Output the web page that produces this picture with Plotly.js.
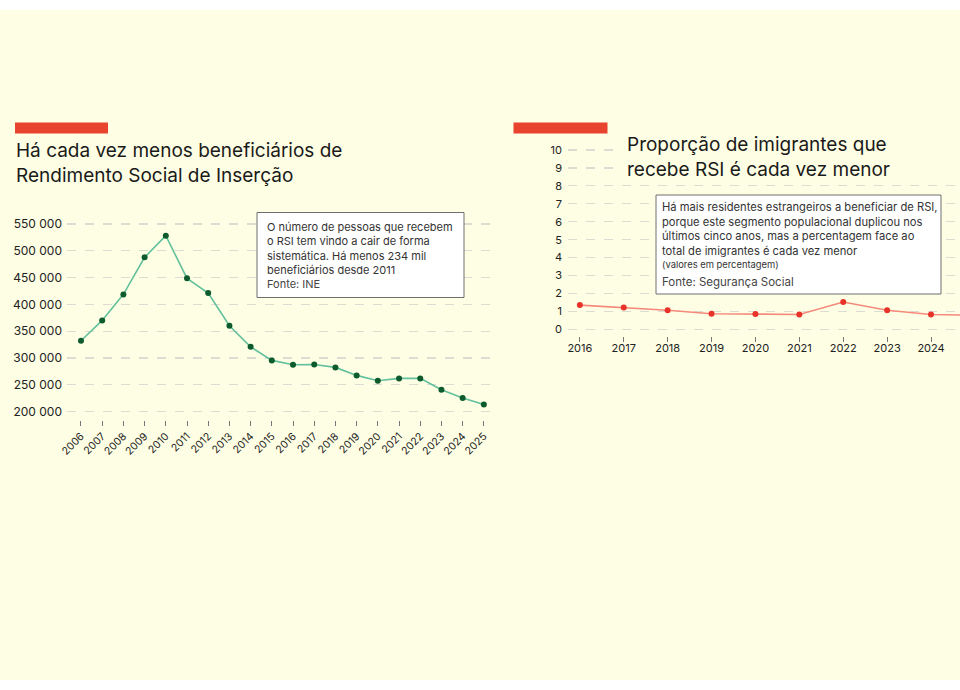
<!DOCTYPE html>
<html>
<head>
<meta charset="utf-8">
<script src="https://cdn.plot.ly/plotly-3.0.1.min.js"></script>
<style>
  html, body { margin: 0; padding: 0; background: #ffffff; }
  #chart { width: 960px; height: 690px; }
</style>
</head>
<body>
<div id="chart"></div>
<script>
// Beneficiários do RSI por ano (INE)
const anosRSI = [2006, 2007, 2008, 2009, 2010, 2011, 2012, 2013, 2014, 2015,
                 2016, 2017, 2018, 2019, 2020, 2021, 2022, 2023, 2024, 2025];
const beneficiarios = [332300, 370300, 418800, 487900, 528200, 448700, 421300, 360300, 321100, 295700,
                       287500, 288000, 282600, 267700, 257700, 262100, 262100, 240900, 225400, 213600];
const ticksBenef = [200000, 250000, 300000, 350000, 400000, 450000, 500000, 550000];
const ticksBenefTexto = ["200 000", "250 000", "300 000", "350 000", "400 000", "450 000", "500 000", "550 000"];

// Proporção de imigrantes que recebe RSI, em % (Segurança Social)
const anosImig = [2016, 2017, 2018, 2019, 2020, 2021, 2022, 2023, 2024, 2025];
const pctImigrantes = [1.35, 1.22, 1.06, 0.87, 0.85, 0.83, 1.52, 1.06, 0.83, 0.78];
const ticksPct = [0, 1, 2, 3, 4, 5, 6, 7, 8, 9, 10];

const W = 960, H = 690;
const px = v => v / W;          // pixel -> paper x
const py = v => 1 - v / H;      // pixel -> paper y

const FONT = "Inter, 'Noto Sans', sans-serif";
const BG = "#fefee4";
const GRID = "#dcdcd2";

const traces = [
  {
    x: anosRSI, y: beneficiarios, xaxis: "x", yaxis: "y",
    type: "scatter", mode: "lines+markers",
    line: { color: "#62c09c", width: 1.6 },
    marker: { color: "#0d5a2c", size: 6 },
    hoverinfo: "x+y"
  },
  {
    x: anosImig, y: pctImigrantes, xaxis: "x2", yaxis: "y2",
    type: "scatter", mode: "lines+markers",
    line: { color: "#f58a7c", width: 1.6 },
    marker: { color: "#e8332b", size: 6 },
    hoverinfo: "x+y"
  }
];

const baseX = {
  showgrid: false, zeroline: false, showline: false,
  ticks: "outside", ticklen: 5, tickwidth: 1, tickcolor: "#777",
  tickfont: { family: FONT, size: 10.5, color: "#222" }
};
const baseY = {
  showgrid: true, gridcolor: GRID, gridwidth: 1.2, griddash: "9px,9px",
  zeroline: false, showline: false, ticks: "",
  tickfont: { family: FONT, size: 12, color: "#222" }
};

const layout = {
  width: W, height: H,
  margin: { l: 0, r: 0, t: 0, b: 0 },
  paper_bgcolor: BG, plot_bgcolor: "rgba(0,0,0,0)",
  showlegend: false,
  xaxis: Object.assign({}, baseX, {
    domain: [px(67), px(497)], range: [2005.34, 2025.62],
    tickvals: anosRSI, tickangle: -45, anchor: "y"
  }),
  yaxis: Object.assign({}, baseY, {
    domain: [py(420), py(216)], range: [184500, 565000],
    tickvals: ticksBenef, ticktext: ticksBenefTexto, anchor: "x",
    ticklabelstandoff: 4
  }),
  xaxis2: Object.assign({}, baseX, {
    domain: [px(568), 1], range: [2015.73, 2024.66],
    tickvals: anosImig, anchor: "y2", ticklabelstandoff: -3,
    tickfont: { family: FONT, size: 11, color: "#222" }
  }),
  yaxis2: Object.assign({}, baseY, {
    domain: [py(336), py(145)], range: [-0.373, 10.28],
    tickvals: ticksPct, anchor: "x2", ticklabelstandoff: 5,
    tickfont: { family: FONT, size: 11, color: "#222" }
  }),
  shapes: [
    // faixas brancas de topo e base
    { type: "rect", xref: "paper", yref: "paper", x0: 0, x1: 1, y0: py(0), y1: py(10),
      fillcolor: "#ffffff", line: { width: 0 }, layer: "below" },
    { type: "rect", xref: "paper", yref: "paper", x0: 0, x1: 1, y0: py(680), y1: py(690),
      fillcolor: "#ffffff", line: { width: 0 }, layer: "below" },
    // barras vermelhas sobre os títulos
    { type: "rect", xref: "paper", yref: "paper", x0: px(15), x1: px(108), y0: py(133.5), y1: py(122.5),
      fillcolor: "#e8432f", line: { width: 0 } },
    { type: "rect", xref: "paper", yref: "paper", x0: px(513.5), x1: px(607.5), y0: py(133.5), y1: py(122.5),
      fillcolor: "#e8432f", line: { width: 0 } },
    // fundo do título do segundo gráfico
    { type: "rect", xref: "paper", yref: "paper", x0: px(618), x1: 1, y0: py(178), y1: py(136),
      fillcolor: BG, line: { width: 0 }, layer: "above" },
    // caixas de texto
    { type: "rect", xref: "paper", yref: "paper", x0: px(257), x1: px(464), y0: py(297.5), y1: py(212.5),
      fillcolor: "#ffffff", line: { color: "#6f6f6f", width: 1 }, layer: "above" },
    { type: "rect", xref: "paper", yref: "paper", x0: px(656), x1: px(941), y0: py(294), y1: py(195),
      fillcolor: "#ffffff", line: { color: "#6f6f6f", width: 1 }, layer: "above" }
  ],
  annotations: [
    { xref: "paper", yref: "paper", x: px(13.5), y: py(163), xanchor: "left", yanchor: "middle",
      align: "left", showarrow: false,
      text: "Há cada vez menos beneficiários de<br>Rendimento Social de Inserção",
      font: { family: FONT, size: 19, color: "#1a1a1a" } },
    { xref: "paper", yref: "paper", x: px(624.5), y: py(157), xanchor: "left", yanchor: "middle",
      align: "left", showarrow: false,
      text: "Proporção de imigrantes que<br>recebe RSI é cada vez menor",
      font: { family: FONT, size: 19, color: "#1a1a1a" } },
    { xref: "paper", yref: "paper", x: px(265), y: py(248), xanchor: "left", yanchor: "middle",
      align: "left", showarrow: false,
      text: "O número de pessoas que recebem<br>o RSI tem vindo a cair de forma<br>sistemática. Há menos 234 mil<br>beneficiários desde 2011",
      font: { family: FONT, size: 11, color: "#333" } },
    { xref: "paper", yref: "paper", x: px(265), y: py(283.5), xanchor: "left", yanchor: "middle",
      align: "left", showarrow: false, text: "Fonte: INE",
      font: { family: FONT, size: 11, color: "#444" } },
    { xref: "paper", yref: "paper", x: px(660), y: py(228.5), xanchor: "left", yanchor: "middle",
      align: "left", showarrow: false,
      text: "Há mais residentes estrangeiros a beneficiar de RSI,<br>porque este segmento populacional duplicou nos<br>últimos cinco anos, mas a percentagem face ao<br>total de imigrantes é cada vez menor",
      font: { family: FONT, size: 11.2, color: "#333" } },
    { xref: "paper", yref: "paper", x: px(660), y: py(264.5), xanchor: "left", yanchor: "middle",
      align: "left", showarrow: false, text: "(valores em percentagem)",
      font: { family: FONT, size: 9.4, color: "#333" } },
    { xref: "paper", yref: "paper", x: px(660), y: py(281.5), xanchor: "left", yanchor: "middle",
      align: "left", showarrow: false, text: "Fonte: Segurança Social",
      font: { family: FONT, size: 11.5, color: "#444" } }
  ]
};

Plotly.newPlot("chart", traces, layout, { displayModeBar: false, staticPlot: true });
</script>
</body>
</html>
